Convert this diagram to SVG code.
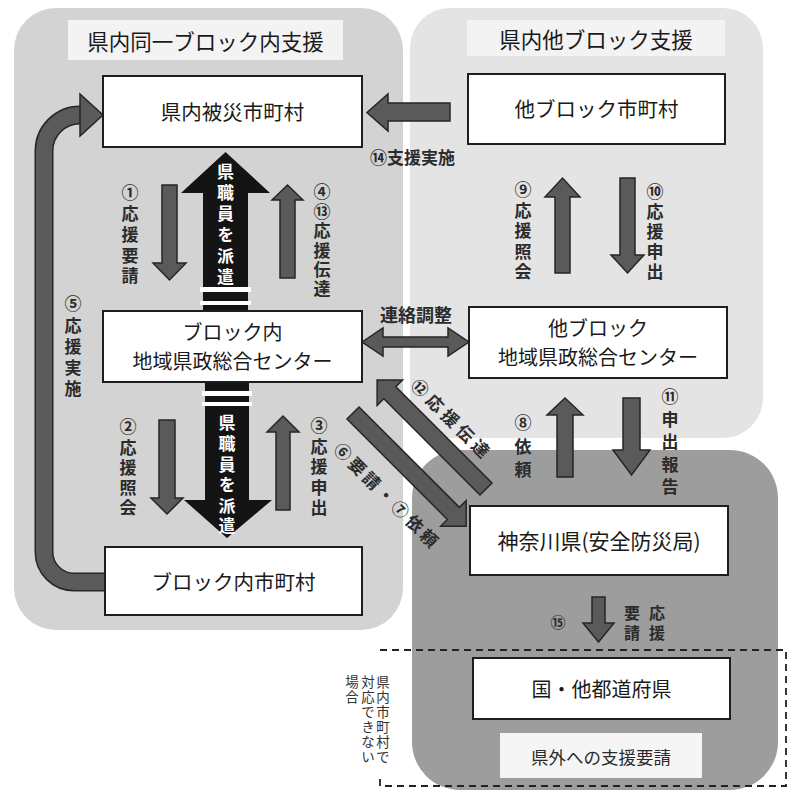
<svg xmlns="http://www.w3.org/2000/svg" width="788" height="791" viewBox="0 0 788 791">
<style>
.rl{fill:#d3d3d3}
.rr{fill:#e4e4e4}
.rk{fill:#9d9d9d}
.box{fill:#ffffff;stroke:#1e1e1e;stroke-width:2}
.ttl{fill:#f3f3f3}
.t{font-family:"Noto Sans CJK JP","Noto Sans CJK SC",sans-serif;fill:#1a1a1a}
.nt{font-size:20.5px;text-anchor:middle}
.nt2{font-size:20px}
.tt{font-size:21.5px;text-anchor:middle}
.lbl{font-size:17px;font-weight:700;fill:#2b2b2b;text-anchor:middle}
.v{font-size:17px;font-weight:700;fill:#2b2b2b;writing-mode:vertical-rl;text-orientation:upright;text-anchor:start}
.wv{fill:#ffffff}
.nv{font-size:13.5px;font-weight:400;fill:#333333}
.arr{fill:#5a5a5a;stroke:#262626;stroke-width:1.5;stroke-linejoin:miter}
.big{fill:#141414}
.dash{fill:none;stroke:#222222;stroke-width:1.8;stroke-dasharray:7 5}
</style>

<g id="regions">
  <rect class="rl" x="14" y="8" width="389" height="622" rx="42"/>
  <rect class="rr" x="410" y="8" width="353" height="430" rx="40"/>
  <rect class="rk" x="412" y="450" width="366" height="340" rx="48"/>
  <path class="dash" d="M380,650 H786 V786 H380 V775"/>
</g>

<g id="title-left">
  <rect class="ttl" x="68" y="20" width="275" height="40"/>
  <text class="t tt" x="205.5" y="50">県内同一ブロック内支援</text>
</g>
<g id="title-right">
  <rect class="ttl" x="467" y="20" width="258" height="36"/>
  <text class="t tt" x="596" y="48">県内他ブロック支援</text>
</g>

<g id="connectors">
  <g id="c-haken-up">
    <polygon class="big" points="203,311 203,193 181,193 225.5,152 270,193 248,193 248,311"/>
    <rect x="200" y="287" width="51" height="5" fill="#ffffff"/>
    <rect x="200" y="301" width="51" height="4" fill="#ffffff"/>
    <text class="t v wv" x="225.5" y="163.5" style="letter-spacing:4px">県職員を派遣</text>
  </g>
  <g id="c-haken-down">
    <polygon class="big" points="205,382 249,382 249,500 272,500 227,538 184,500 205,500"/>
    <rect x="202" y="391" width="50" height="5" fill="#ffffff"/>
    <rect x="202" y="402" width="50" height="4" fill="#ffffff"/>
    <text class="t v wv" x="227" y="414.5" style="letter-spacing:3.6px">県職員を派遣</text>
  </g>
  <g id="c-1">
    <polygon class="arr" points="162,185 177,185 177,263 186,263 169.5,280 153,263 162,263"/>
    <text class="t v" x="130" y="184.5" style="letter-spacing:3.75px">①応援要請</text>
  </g>
  <g id="c-4-13">
    <polygon class="arr" points="280,278 295,278 295,200 303,200 287.5,185 272,200 280,200"/>
    <text class="t v" x="322" y="183.5" style="letter-spacing:2.4px">④⑬応援伝達</text>
  </g>
  <g id="c-2">
    <polygon class="arr" points="159,420 175,420 175,498 183,498 167,514 151,498 159,498"/>
    <text class="t v" x="128" y="418.5" style="letter-spacing:3.25px">②応援照会</text>
  </g>
  <g id="c-3">
    <polygon class="arr" points="276,510 290,510 290,432 299,432 283,416 267,432 276,432"/>
    <text class="t v" x="319" y="417.5" style="letter-spacing:3.5px">③応援申出</text>
  </g>
  <g id="c-5">
    <path d="M105,582 H74 A30,30 0 0 1 44,552 V151 A36,36 0 0 1 80,115 H84" fill="none" stroke="#262626" stroke-width="19"/>
    <path d="M106,582 H74 A30,30 0 0 1 44,552 V151 A36,36 0 0 1 80,115 H84" fill="none" stroke="#5a5a5a" stroke-width="16"/>
    <polygon class="arr" points="80,94 103,115 80,136"/>
    <text class="t v" x="73" y="295.5" style="letter-spacing:4.25px">⑤応援実施</text>
  </g>
  <g id="c-14">
    <polygon class="arr" points="450,103 388,103 388,94 367,112.5 388,131 388,121 450,121"/>
    <text class="t lbl" x="370" y="163.5" style="text-anchor:start">⑭支援実施</text>
  </g>
  <g id="c-9">
    <polygon class="arr" points="555,273 570,273 570,197 580,197 562.5,178 545,197 555,197"/>
    <text class="t v" x="523" y="181.5" style="letter-spacing:3.5px">⑨応援照会</text>
  </g>
  <g id="c-10">
    <polygon class="arr" points="620,178 635,178 635,255 644,255 627.5,273 611,255 620,255"/>
    <text class="t v" x="655" y="183.5" style="letter-spacing:3px">⑩応援申出</text>
  </g>
  <g id="c-renraku">
    <polygon class="arr" points="362,342 383,328 383,337 448,337 448,328 469,342 448,356 448,347 383,347 383,356"/>
    <text class="t lbl" x="416" y="321.5" style="font-size:18px">連絡調整</text>
  </g>
  <g id="c-12">
    <polygon class="arr" transform="translate(486,489) rotate(225)" points="0,-8.5 136,-8.5 136,-18 154,0 136,18 136,8.5 0,8.5"/>
    <text class="t lbl" transform="translate(414,382) rotate(45)" x="0" y="6.5" style="text-anchor:start;letter-spacing:4.4px">⑫応援伝達</text>
  </g>
  <g id="c-6-7">
    <polygon class="arr" transform="translate(353,413) rotate(45)" points="0,-8.5 142,-8.5 142,-18 160,0 142,18 142,8.5 0,8.5"/>
    <text class="t lbl" transform="translate(337,446) rotate(45)" x="0" y="6.5" style="text-anchor:start;letter-spacing:3.3px">⑥要請・⑦依頼</text>
  </g>
  <g id="c-8">
    <polygon class="arr" points="557,477 573,477 573,415 583,415 565,398 547,415 557,415"/>
    <text class="t v" x="523" y="414.5" style="letter-spacing:6.5px">⑧依頼</text>
  </g>
  <g id="c-11">
    <polygon class="arr" points="623,398 640,398 640,450 650,450 631.5,475 613,450 623,450"/>
    <text class="t v" x="670" y="388.5" style="letter-spacing:5.5px">⑪申出報告</text>
  </g>
  <g id="c-15">
    <polygon class="arr" points="592,597 605,597 605,623 614,623 598.5,642 583,623 592,623"/>
    <text class="t lbl" x="558" y="628" style="font-size:15px">⑮</text>
    <text class="t v" x="657" y="605" style="font-size:16px;letter-spacing:4px">応援</text>
    <text class="t v" x="632" y="605" style="font-size:16px;letter-spacing:4px">要請</text>
  </g>
</g>

<g id="node-hisai">
  <rect class="box" x="103" y="76" width="259" height="71"/>
  <text class="t nt" x="232.5" y="120">県内被災市町村</text>
</g>
<g id="node-tablock-city">
  <rect class="box" x="468" y="74" width="257" height="70"/>
  <text class="t nt" x="596.5" y="117">他ブロック市町村</text>
</g>
<g id="node-block-center">
  <rect class="box" x="103" y="311" width="259" height="71"/>
  <text class="t nt nt2" x="232.5" y="339.6"><tspan x="232.5" y="339.6">ブロック内</tspan><tspan x="232.5" y="368.6">地域県政総合センター</tspan></text>
</g>
<g id="node-tablock-center">
  <rect class="box" x="469" y="307" width="258" height="71"/>
  <text class="t nt nt2" x="598" y="336"><tspan x="598" y="336">他ブロック</tspan><tspan x="598" y="365">地域県政総合センター</tspan></text>
</g>
<g id="node-block-city">
  <rect class="box" x="105" y="547" width="257" height="68"/>
  <text class="t nt" x="233.5" y="590">ブロック内市町村</text>
</g>
<g id="node-kanagawa">
  <rect class="box" x="470" y="506" width="258" height="69"/>
  <text class="t nt" x="599" y="549" style="font-size:21px">神奈川県(安全防災局)</text>
</g>
<g id="node-kuni">
  <rect class="box" x="473" y="658" width="257" height="61"/>
  <text class="t nt" x="601.5" y="697" style="font-size:20px">国・他都道府県</text>
</g>
<g id="label-kengai">
  <rect x="500" y="733" width="202" height="45" fill="#f5f5f5"/>
  <text class="t" x="601" y="763.5" style="font-size:17.5px;text-anchor:middle;fill:#2a2a2a">県外への支援要請</text>
</g>
<g id="note">
  <text class="t v nv" x="383" y="675.25" style="letter-spacing:1.5px">県内市町村で</text>
  <text class="t v nv" x="368" y="675.25" style="letter-spacing:1.5px">対応できない</text>
  <text class="t v nv" x="352" y="675.25" style="letter-spacing:1.5px">場合</text>
</g>
</svg>
